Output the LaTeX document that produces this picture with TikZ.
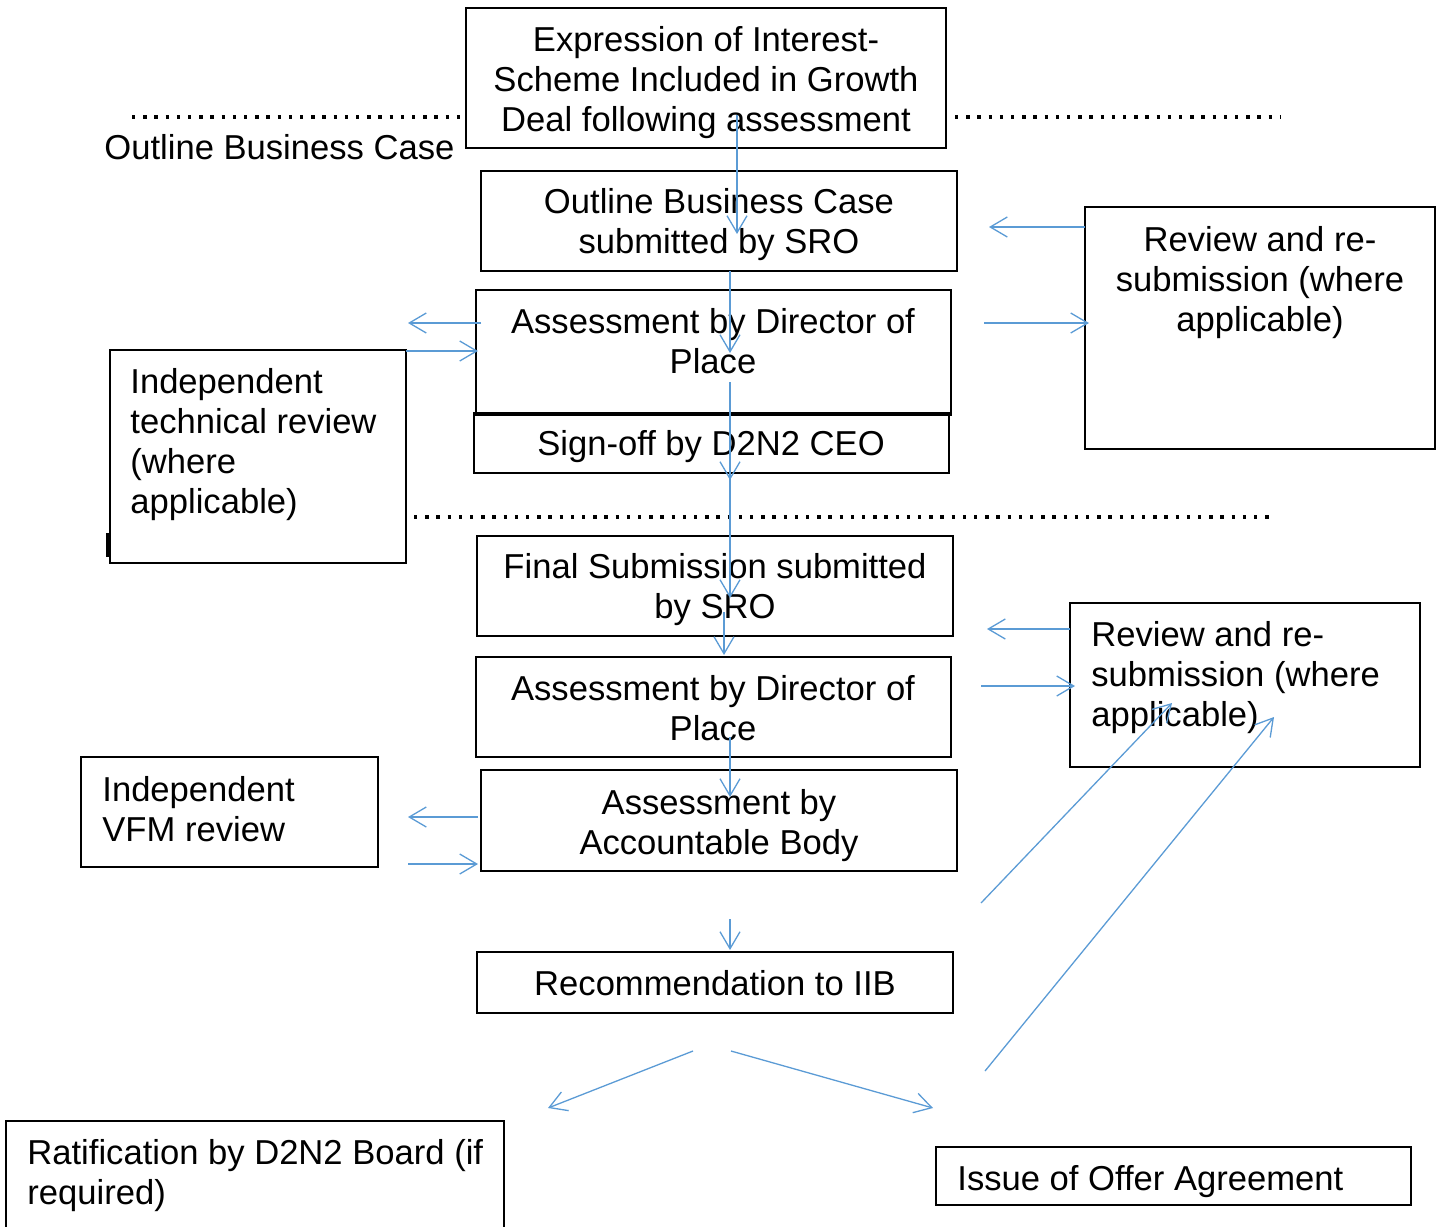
\documentclass[tikz,border=0pt]{standalone}
\usepackage{fontspec}
\setmainfont{Liberation Sans}
\usetikzlibrary{arrows.meta}
\definecolor{arrowblue}{HTML}{5B9BD5}
\newcommand\fs{\fontsize{17.3}{20}\selectfont}
\newcommand\mystrut{\rule{0pt}{15.5pt}}
\begin{document}
\begin{tikzpicture}[x=0.5pt,y=-0.5pt,
  box/.style={draw, line width=1pt, inner sep=0pt, outer sep=0pt, anchor=north west},
  ctext/.style={inner sep=0pt, font=\fs, align=center, anchor=north},
  ltext/.style={inner sep=0pt, font=\fs, align=left, anchor=north west},
  flow/.style={draw=arrowblue, line width=0.65pt, -{Straight Barb[length=8.5pt,width=10pt]}},
  sep/.style={line width=1.7pt, dash pattern=on 1.7pt off 3.9pt}
]
\useasboundingbox (0,0) rectangle (1443,1226);

% separators
\coordinate (s1a) at (132,117); \coordinate (s1b) at (462,117);
\coordinate (s2a) at (955,117); \coordinate (s2b) at (1281,117);
\coordinate (s3a) at (414,517); \coordinate (s3b) at (1275,517);
\draw[sep] (s1a) -- (s1b);
\draw[sep] (s2a) -- (s2b);
\draw[sep] (s3a) -- (s3b);
\node[ltext] (obclabel) at (104,128.5) {\mystrut Outline Business Case};

% small mark left of technical review box
\coordinate (m1) at (107.5,533); \coordinate (m2) at (107.5,557);
\draw[line width=1.4pt] (m1) -- (m2);

% boxes
\node[box, minimum width=240pt, minimum height=70pt] (eoi) at (466,8) {};
\node[box, minimum width=238pt, minimum height=50pt] (obc) at (481,171) {};
\node[box, minimum width=237.5pt, minimum height=62.5pt] (dop1) at (476,290) {};
\node[box, minimum width=237.5pt, minimum height=30pt] (sign) at (474,413) {};
\node[box, minimum width=148pt, minimum height=106.5pt] (itr) at (110,350) {};
\node[box, minimum width=175pt, minimum height=121pt] (rev1) at (1085,207) {};
\node[box, minimum width=238pt, minimum height=50pt] (final) at (477,536) {};
\node[box, minimum width=237.5pt, minimum height=50pt] (dop2) at (476,657) {};
\node[box, minimum width=175pt, minimum height=82pt] (rev2) at (1070,603) {};
\node[box, minimum width=238pt, minimum height=50.5pt] (acc) at (481,770) {};
\node[box, minimum width=148.5pt, minimum height=55pt] (vfm) at (81,757) {};
\node[box, minimum width=238pt, minimum height=30.5pt] (rec) at (477,952) {};
\node[box, minimum width=249pt, minimum height=60pt] (rat) at (6,1121) {};
\node[box, minimum width=237.5pt, minimum height=29pt] (issue) at (936,1147) {};

% texts
\node[ctext] (eoit) at (706,20.5) {\mystrut Expression of Interest-\\Scheme Included in Growth\\Deal following assessment};
\node[ctext] (obct) at (719,182.5) {\mystrut Outline Business Case\\submitted by SRO};
\node[ctext] (dop1t) at (713,302.5) {\mystrut Assessment by Director of\\Place};
\node[ctext] (signt) at (711,424.5) {\mystrut Sign-off by D2N2 CEO};
\node[ltext] (itrt) at (130,362.5) {\mystrut Independent\\technical review\\(where\\applicable)};
\node[ctext] (rev1t) at (1260,220.5) {\mystrut Review and re-\\submission (where\\applicable)};
\node[ctext] (finalt) at (715,547.5) {\mystrut Final Submission submitted\\by SRO};
\node[ctext] (dop2t) at (713,669.5) {\mystrut Assessment by Director of\\Place};
\node[ltext] (rev2t) at (1091,615.5) {\mystrut Review and re-\\submission (where\\applicable)};
\node[ctext] (acct) at (719,783.5) {\mystrut Assessment by\\Accountable Body};
\node[ltext] (vfmt) at (102,770.5) {\mystrut Independent\\VFM review};
\node[ctext] (rect) at (715,964.5) {\mystrut Recommendation to IIB};
\node[ltext] (ratt) at (27,1133.5) {\mystrut Ratification by D2N2 Board (if\\required)};
\node[ltext] (issuet) at (957,1159.5) {\mystrut Issue of Offer Agreement};

% connector end points
\coordinate (a1s) at (737,115);  \coordinate (a1e) at (737,234);
\coordinate (a2s) at (730,271);  \coordinate (a2e) at (730,353);
\coordinate (a3s) at (730,382);  \coordinate (a3e) at (730,480);
\coordinate (a4s) at (730,470);  \coordinate (a4e) at (730,598);
\coordinate (a5s) at (724,612);  \coordinate (a5e) at (724,655);
\coordinate (a6s) at (730,737);  \coordinate (a6e) at (730,797);
\coordinate (a7s) at (730,919);  \coordinate (a7e) at (730,950);
\coordinate (h1s) at (1085,227); \coordinate (h1e) at (989,227);
\coordinate (h2s) at (984,323);  \coordinate (h2e) at (1089,323);
\coordinate (j1s) at (481,323);  \coordinate (j1e) at (408,323);
\coordinate (j2s) at (406,351);  \coordinate (j2e) at (478,351);
\coordinate (l1s) at (1070,629); \coordinate (l1e) at (987,629);
\coordinate (l2s) at (981,686);  \coordinate (l2e) at (1075,686);
\coordinate (d1s) at (981,903);  \coordinate (d1e) at (1172,703);
\coordinate (d2s) at (985,1071); \coordinate (d2e) at (1274,717);
\coordinate (v1s) at (478,817);  \coordinate (v1e) at (408,817);
\coordinate (v2s) at (408,864);  \coordinate (v2e) at (478,864);
\coordinate (b1s) at (693,1051); \coordinate (b1e) at (548,1108);
\coordinate (b2s) at (731,1051); \coordinate (b2e) at (933,1108);

% connectors
\draw[flow] (a1s) -- (a1e);
\draw[flow] (a2s) -- (a2e);
\draw[flow] (a3s) -- (a3e);
\draw[flow] (a4s) -- (a4e);
\draw[flow] (a5s) -- (a5e);
\draw[flow] (a6s) -- (a6e);
\draw[flow] (a7s) -- (a7e);
\draw[flow] (h1s) -- (h1e);
\draw[flow] (h2s) -- (h2e);
\draw[flow] (j1s) -- (j1e);
\draw[flow] (j2s) -- (j2e);
\draw[flow] (l1s) -- (l1e);
\draw[flow] (l2s) -- (l2e);
\draw[flow] (d1s) -- (d1e);
\draw[flow] (d2s) -- (d2e);
\draw[flow] (v1s) -- (v1e);
\draw[flow] (v2s) -- (v2e);
\draw[flow] (b1s) -- (b1e);
\draw[flow] (b2s) -- (b2e);
\end{tikzpicture}
\end{document}
